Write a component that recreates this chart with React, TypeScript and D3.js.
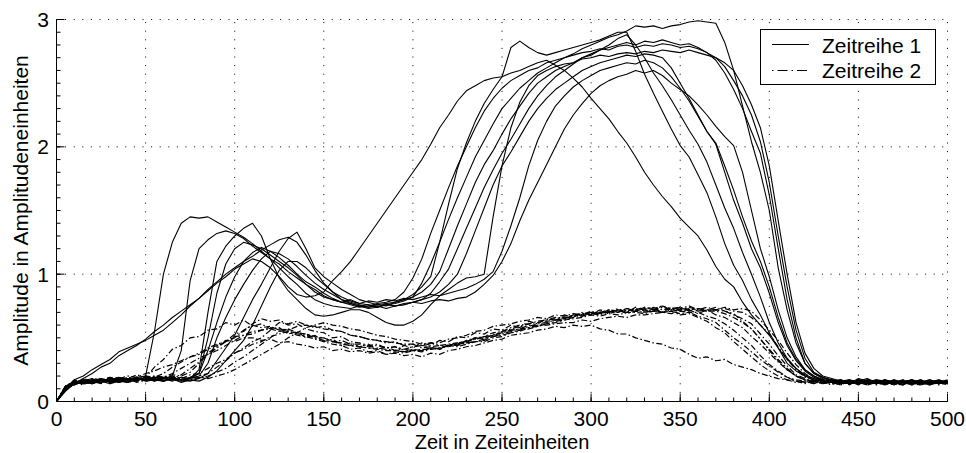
import React from 'react';
import * as d3 from 'd3';

// sampling grid of the time axis (every 5 time units, 0..500)
const times: number[] = d3.range(0, 501, 5);

const xTicks = [0, 50, 100, 150, 200, 250, 300, 350, 400, 450, 500];
const yTicks = [0, 1, 2, 3];
const xMinor = d3.range(0, 501, 10);
const yMinor = d3.range(0, 3.001, 0.1);

// Zeitreihe 1 (solid), one per 5 time units
const s1 = [0,0.09,0.15,0.16,0.14,0.17,0.16,0.18,0.17,0.19,0.2,0.55,1.0,1.25,1.4,1.45,1.44,1.45,1.41,1.37,1.33,1.29,1.24,1.18,1.12,1.05,0.98,0.92,0.85,0.8,0.77,0.75,0.74,0.73,0.75,0.74,0.76,0.75,0.78,0.8,0.82,0.86,0.92,1.02,1.2,1.38,1.55,1.72,1.86,1.97,2.1,2.22,2.32,2.42,2.5,2.55,2.6,2.63,2.66,2.7,2.72,2.76,2.78,2.8,2.82,2.8,2.83,2.82,2.84,2.82,2.8,2.81,2.78,2.74,2.68,2.58,2.45,2.3,2.12,1.95,1.62,1.2,0.8,0.5,0.3,0.22,0.18,0.17,0.15,0.16,0.14,0.16,0.15,0.17,0.15,0.14,0.16,0.15,0.13,0.15,0.14];
const s2 = [0,0.11,0.14,0.17,0.15,0.16,0.18,0.15,0.17,0.18,0.17,0.19,0.18,0.2,0.4,0.95,1.2,1.27,1.32,1.34,1.32,1.28,1.22,1.17,1.12,1.08,1.02,0.97,0.92,0.88,0.83,0.8,0.78,0.76,0.74,0.75,0.77,0.78,0.8,0.86,0.97,1.12,1.32,1.5,1.68,1.85,2.0,2.15,2.28,2.38,2.46,2.52,2.56,2.6,2.62,2.66,2.68,2.7,2.72,2.74,2.75,2.77,2.76,2.79,2.8,2.78,2.8,2.79,2.81,2.8,2.78,2.79,2.77,2.74,2.7,2.63,2.52,2.4,2.25,2.04,1.72,1.3,0.9,0.56,0.34,0.23,0.19,0.16,0.17,0.15,0.16,0.14,0.16,0.15,0.17,0.15,0.14,0.16,0.15,0.17,0.15];
const s3 = [0,0.1,0.16,0.14,0.17,0.15,0.17,0.19,0.16,0.18,0.17,0.19,0.18,0.17,0.16,0.18,0.25,0.7,1.1,1.22,1.3,1.36,1.4,1.3,1.12,0.97,0.87,0.8,0.73,0.68,0.67,0.68,0.7,0.72,0.72,0.7,0.66,0.62,0.6,0.6,0.63,0.68,0.76,0.83,0.88,0.93,0.97,0.98,1.0,1.45,1.85,2.15,2.35,2.48,2.56,2.6,2.63,2.65,2.66,2.69,2.7,2.72,2.71,2.73,2.74,2.73,2.75,2.74,2.76,2.75,2.74,2.76,2.74,2.72,2.7,2.66,2.6,2.48,2.33,2.15,1.85,1.42,1.0,0.62,0.38,0.26,0.2,0.18,0.16,0.17,0.15,0.14,0.17,0.16,0.14,0.15,0.17,0.14,0.16,0.15,0.16];
const s4 = [0,0.1,0.17,0.2,0.25,0.29,0.33,0.39,0.42,0.45,0.48,0.52,0.56,0.62,0.68,0.75,0.81,0.87,0.93,0.98,1.04,1.08,1.12,1.1,1.05,0.98,0.9,0.84,0.82,0.83,0.86,0.95,1.02,1.1,1.2,1.3,1.4,1.5,1.6,1.7,1.8,1.9,2.02,2.15,2.25,2.36,2.44,2.48,2.52,2.54,2.55,2.58,2.6,2.63,2.66,2.68,2.64,2.6,2.54,2.47,2.38,2.3,2.22,2.12,2.03,1.92,1.8,1.7,1.61,1.53,1.44,1.37,1.3,1.19,1.06,0.96,0.9,0.78,0.68,0.6,0.52,0.42,0.33,0.26,0.2,0.18,0.17,0.15,0.16,0.14,0.17,0.15,0.14,0.16,0.13,0.16,0.15,0.17,0.14,0.15,0.16];
const s5 = [0,0.08,0.14,0.18,0.22,0.27,0.3,0.36,0.4,0.44,0.49,0.55,0.6,0.66,0.71,0.76,0.81,0.88,0.94,1.0,1.05,1.1,1.14,1.19,1.23,1.27,1.29,1.25,1.15,1.03,0.93,0.86,0.8,0.77,0.75,0.76,0.74,0.77,0.78,0.8,0.84,0.9,0.98,1.25,1.55,1.83,2.03,2.2,2.34,2.45,2.55,2.78,2.83,2.78,2.74,2.72,2.74,2.76,2.78,2.8,2.82,2.84,2.87,2.9,2.9,2.75,2.57,2.42,2.28,2.14,2.01,1.92,1.78,1.64,1.45,1.24,1.07,0.95,0.8,0.68,0.54,0.42,0.3,0.24,0.2,0.17,0.16,0.15,0.17,0.14,0.16,0.15,0.17,0.14,0.16,0.15,0.13,0.16,0.14,0.16,0.15];
const s6 = [0,0.12,0.15,0.14,0.16,0.18,0.15,0.17,0.16,0.19,0.17,0.18,0.16,0.18,0.17,0.16,0.18,0.22,0.32,0.42,0.52,0.66,0.8,0.92,1.05,1.18,1.28,1.33,1.2,1.05,0.98,0.93,0.88,0.84,0.8,0.78,0.76,0.77,0.75,0.76,0.78,0.77,0.79,0.8,0.79,0.81,0.82,0.86,0.92,0.99,1.1,1.24,1.42,1.58,1.72,1.86,2.0,2.14,2.25,2.34,2.42,2.48,2.52,2.55,2.57,2.6,2.58,2.6,2.56,2.5,2.45,2.4,2.33,2.25,2.16,2.08,2.01,1.8,1.5,1.2,0.98,0.72,0.5,0.35,0.25,0.2,0.17,0.15,0.16,0.14,0.18,0.16,0.15,0.17,0.14,0.16,0.15,0.14,0.17,0.15,0.16];
const s7 = [0,0.11,0.13,0.16,0.18,0.15,0.17,0.16,0.18,0.17,0.19,0.18,0.16,0.19,0.17,0.18,0.22,0.5,0.85,1.08,1.2,1.25,1.23,1.2,1.15,1.1,1.05,0.99,0.92,0.86,0.82,0.8,0.78,0.77,0.75,0.73,0.74,0.76,0.77,0.79,0.82,0.93,1.08,1.25,1.43,1.6,1.76,1.92,2.05,2.18,2.3,2.38,2.46,2.52,2.58,2.62,2.66,2.7,2.73,2.77,2.8,2.83,2.86,2.88,2.91,2.95,2.94,2.95,2.93,2.95,2.96,2.98,2.99,2.98,2.97,2.82,2.6,2.32,2.04,1.8,1.5,1.05,0.72,0.46,0.3,0.22,0.19,0.17,0.15,0.16,0.14,0.17,0.15,0.16,0.14,0.15,0.17,0.15,0.14,0.16,0.15];
const s8 = [0,0.1,0.15,0.17,0.14,0.16,0.18,0.17,0.15,0.17,0.18,0.16,0.18,0.17,0.19,0.18,0.2,0.3,0.5,0.66,0.8,0.92,1.03,1.12,1.18,1.16,1.12,1.06,0.99,0.93,0.88,0.84,0.8,0.78,0.76,0.74,0.75,0.73,0.75,0.76,0.78,0.8,0.85,0.94,1.04,1.2,1.36,1.52,1.68,1.82,1.95,2.06,2.18,2.3,2.4,2.48,2.55,2.6,2.65,2.7,2.73,2.76,2.8,2.85,2.88,2.8,2.7,2.58,2.48,2.37,2.25,2.13,2.02,1.88,1.7,1.52,1.36,1.17,1.0,0.82,0.62,0.46,0.34,0.26,0.21,0.18,0.16,0.17,0.15,0.14,0.16,0.18,0.15,0.14,0.16,0.15,0.17,0.14,0.16,0.15,0.17];
const s9 = [0,0.09,0.14,0.15,0.17,0.16,0.14,0.17,0.18,0.16,0.19,0.17,0.16,0.18,0.15,0.17,0.16,0.19,0.24,0.32,0.4,0.48,0.6,0.75,0.9,1.03,1.1,1.1,1.05,0.98,0.92,0.86,0.82,0.79,0.77,0.76,0.74,0.76,0.75,0.77,0.78,0.8,0.82,0.86,0.92,1.0,1.16,1.34,1.52,1.7,1.85,1.96,2.08,2.2,2.3,2.38,2.45,2.5,2.55,2.6,2.63,2.66,2.68,2.7,2.72,2.71,2.73,2.72,2.7,2.62,2.5,2.38,2.25,2.12,2.02,1.8,1.58,1.4,1.2,1.05,0.85,0.62,0.44,0.32,0.24,0.19,0.17,0.15,0.16,0.14,0.15,0.17,0.14,0.16,0.15,0.13,0.16,0.15,0.17,0.14,0.16];
const s10 = [0,0.12,0.16,0.15,0.14,0.17,0.16,0.15,0.17,0.19,0.16,0.17,0.19,0.18,0.17,0.19,0.22,0.4,0.62,0.82,0.98,1.1,1.17,1.21,1.18,1.13,1.07,1.0,0.94,0.9,0.85,0.81,0.78,0.8,0.77,0.79,0.78,0.8,0.79,0.81,0.8,0.82,0.84,0.83,0.85,0.87,0.89,0.92,0.96,1.02,1.18,1.38,1.6,1.85,2.05,2.2,2.32,2.4,2.47,2.52,2.56,2.6,2.62,2.64,2.66,2.65,2.68,2.66,2.62,2.55,2.46,2.36,2.24,2.12,2.03,1.85,1.66,1.45,1.26,1.1,0.9,0.66,0.46,0.33,0.25,0.2,0.17,0.16,0.14,0.15,0.17,0.15,0.16,0.14,0.15,0.17,0.14,0.16,0.15,0.14,0.16];

// Zeitreihe 2 (dash-dot)
const d1 = [0,0.11,0.15,0.13,0.17,0.15,0.19,0.16,0.18,0.21,0.19,0.27,0.33,0.41,0.44,0.5,0.51,0.56,0.57,0.62,0.6,0.64,0.59,0.61,0.57,0.58,0.53,0.55,0.5,0.52,0.47,0.49,0.44,0.46,0.43,0.45,0.41,0.43,0.4,0.44,0.42,0.46,0.44,0.48,0.47,0.51,0.5,0.54,0.53,0.57,0.56,0.6,0.58,0.63,0.61,0.65,0.64,0.68,0.66,0.7,0.68,0.72,0.7,0.73,0.7,0.74,0.71,0.73,0.7,0.74,0.71,0.72,0.69,0.72,0.68,0.66,0.62,0.58,0.51,0.45,0.38,0.31,0.25,0.2,0.17,0.15,0.17,0.14,0.16,0.13,0.17,0.15,0.14,0.16,0.13,0.17,0.15,0.14,0.16,0.13,0.15];
const d2 = [0,0.09,0.14,0.16,0.15,0.18,0.16,0.15,0.19,0.17,0.18,0.16,0.2,0.18,0.21,0.26,0.31,0.38,0.43,0.47,0.53,0.55,0.61,0.65,0.63,0.64,0.6,0.61,0.57,0.55,0.54,0.5,0.51,0.47,0.46,0.44,0.45,0.42,0.43,0.39,0.41,0.4,0.42,0.41,0.45,0.44,0.48,0.5,0.49,0.53,0.54,0.56,0.57,0.6,0.59,0.63,0.64,0.65,0.68,0.67,0.7,0.69,0.72,0.7,0.73,0.71,0.74,0.72,0.75,0.72,0.74,0.71,0.73,0.72,0.74,0.71,0.69,0.63,0.57,0.49,0.4,0.32,0.25,0.2,0.17,0.16,0.14,0.17,0.15,0.16,0.13,0.16,0.15,0.13,0.16,0.15,0.17,0.14,0.15,0.17,0.14];
const d3s = [0,0.1,0.16,0.14,0.16,0.15,0.17,0.18,0.16,0.17,0.19,0.17,0.18,0.2,0.18,0.21,0.22,0.26,0.3,0.33,0.38,0.41,0.45,0.47,0.51,0.53,0.55,0.52,0.51,0.49,0.47,0.45,0.44,0.41,0.42,0.39,0.4,0.37,0.38,0.36,0.37,0.35,0.38,0.37,0.4,0.41,0.43,0.44,0.46,0.48,0.49,0.52,0.53,0.54,0.56,0.57,0.59,0.58,0.6,0.59,0.6,0.57,0.56,0.53,0.53,0.5,0.48,0.46,0.45,0.42,0.41,0.37,0.34,0.35,0.32,0.33,0.29,0.27,0.25,0.22,0.2,0.18,0.17,0.15,0.16,0.14,0.16,0.15,0.13,0.16,0.15,0.17,0.14,0.15,0.13,0.16,0.14,0.16,0.15,0.14,0.16];
const d4 = [0,0.12,0.15,0.17,0.16,0.14,0.17,0.19,0.17,0.18,0.2,0.19,0.22,0.27,0.31,0.35,0.38,0.42,0.45,0.47,0.51,0.52,0.55,0.56,0.58,0.57,0.56,0.54,0.53,0.5,0.5,0.47,0.48,0.45,0.45,0.43,0.44,0.42,0.43,0.41,0.43,0.44,0.46,0.46,0.49,0.5,0.52,0.55,0.56,0.59,0.6,0.61,0.63,0.64,0.66,0.65,0.68,0.67,0.69,0.68,0.71,0.69,0.7,0.72,0.69,0.71,0.7,0.72,0.7,0.71,0.68,0.69,0.66,0.63,0.58,0.54,0.47,0.41,0.35,0.29,0.24,0.2,0.17,0.16,0.14,0.16,0.15,0.13,0.16,0.14,0.16,0.13,0.15,0.17,0.14,0.16,0.13,0.15,0.14,0.16,0.15];
const d5 = [0,0.1,0.13,0.16,0.15,0.17,0.14,0.16,0.18,0.15,0.17,0.19,0.16,0.18,0.17,0.19,0.18,0.2,0.23,0.26,0.31,0.35,0.4,0.45,0.5,0.55,0.56,0.59,0.6,0.58,0.59,0.56,0.55,0.52,0.51,0.49,0.48,0.46,0.47,0.44,0.45,0.42,0.43,0.41,0.44,0.43,0.45,0.47,0.47,0.5,0.51,0.54,0.55,0.58,0.59,0.61,0.63,0.64,0.66,0.67,0.69,0.68,0.71,0.7,0.72,0.71,0.73,0.71,0.74,0.72,0.73,0.75,0.72,0.74,0.72,0.73,0.71,0.7,0.66,0.6,0.53,0.43,0.33,0.25,0.19,0.17,0.15,0.16,0.14,0.17,0.15,0.14,0.16,0.15,0.17,0.14,0.16,0.15,0.13,0.16,0.14];
const d6 = [0,0.11,0.17,0.15,0.18,0.17,0.19,0.18,0.2,0.19,0.22,0.24,0.27,0.29,0.32,0.35,0.37,0.41,0.44,0.48,0.47,0.5,0.5,0.48,0.49,0.46,0.47,0.45,0.44,0.42,0.43,0.4,0.41,0.39,0.4,0.38,0.39,0.37,0.39,0.38,0.4,0.39,0.41,0.42,0.44,0.45,0.47,0.49,0.51,0.54,0.55,0.58,0.6,0.61,0.63,0.64,0.66,0.65,0.68,0.69,0.7,0.7,0.72,0.71,0.73,0.72,0.74,0.73,0.75,0.73,0.74,0.72,0.73,0.71,0.71,0.69,0.66,0.62,0.57,0.49,0.41,0.33,0.26,0.2,0.17,0.15,0.16,0.14,0.17,0.15,0.14,0.16,0.13,0.15,0.16,0.14,0.15,0.17,0.14,0.15,0.13];
const d7 = [0,0.09,0.15,0.14,0.16,0.15,0.18,0.16,0.15,0.17,0.16,0.18,0.17,0.19,0.18,0.17,0.19,0.18,0.2,0.22,0.25,0.29,0.33,0.37,0.41,0.45,0.5,0.54,0.58,0.6,0.62,0.6,0.59,0.57,0.56,0.54,0.52,0.51,0.49,0.48,0.47,0.45,0.46,0.44,0.45,0.46,0.47,0.49,0.5,0.52,0.55,0.57,0.59,0.61,0.62,0.64,0.65,0.66,0.67,0.69,0.68,0.7,0.69,0.71,0.7,0.72,0.7,0.71,0.7,0.72,0.71,0.73,0.71,0.72,0.72,0.74,0.72,0.73,0.71,0.64,0.56,0.48,0.38,0.29,0.22,0.17,0.15,0.16,0.14,0.15,0.17,0.15,0.14,0.16,0.14,0.13,0.16,0.15,0.17,0.14,0.15];
const d8 = [0,0.1,0.14,0.18,0.16,0.15,0.17,0.16,0.19,0.17,0.18,0.2,0.19,0.21,0.2,0.23,0.3,0.37,0.42,0.47,0.5,0.56,0.6,0.58,0.59,0.56,0.57,0.54,0.53,0.51,0.5,0.47,0.46,0.44,0.43,0.42,0.41,0.4,0.4,0.39,0.4,0.41,0.41,0.42,0.44,0.46,0.47,0.5,0.51,0.52,0.54,0.56,0.57,0.58,0.6,0.6,0.61,0.62,0.62,0.64,0.63,0.65,0.66,0.67,0.66,0.68,0.68,0.69,0.7,0.69,0.71,0.7,0.67,0.65,0.62,0.56,0.5,0.45,0.39,0.33,0.28,0.23,0.19,0.17,0.16,0.14,0.16,0.15,0.13,0.16,0.14,0.15,0.17,0.14,0.15,0.16,0.14,0.13,0.16,0.15,0.14];
const d9 = [0,0.12,0.16,0.14,0.15,0.18,0.16,0.17,0.15,0.18,0.17,0.19,0.18,0.16,0.19,0.18,0.2,0.22,0.27,0.32,0.38,0.42,0.47,0.5,0.56,0.62,0.61,0.63,0.6,0.59,0.57,0.56,0.55,0.52,0.51,0.49,0.48,0.47,0.46,0.45,0.45,0.44,0.43,0.44,0.43,0.45,0.46,0.47,0.48,0.51,0.53,0.55,0.56,0.59,0.61,0.62,0.64,0.65,0.67,0.68,0.69,0.7,0.7,0.72,0.71,0.73,0.72,0.74,0.72,0.73,0.72,0.74,0.72,0.71,0.72,0.71,0.68,0.65,0.61,0.53,0.45,0.36,0.28,0.21,0.18,0.16,0.14,0.16,0.15,0.17,0.14,0.16,0.15,0.13,0.16,0.15,0.14,0.16,0.14,0.16,0.15];
const d10 = [0,0.11,0.15,0.16,0.14,0.17,0.15,0.18,0.17,0.16,0.18,0.2,0.19,0.22,0.26,0.3,0.34,0.37,0.4,0.44,0.48,0.52,0.53,0.56,0.57,0.55,0.54,0.53,0.52,0.5,0.48,0.47,0.45,0.44,0.43,0.42,0.42,0.41,0.4,0.41,0.4,0.4,0.42,0.42,0.44,0.44,0.46,0.47,0.49,0.51,0.52,0.54,0.56,0.57,0.59,0.61,0.62,0.64,0.65,0.66,0.68,0.67,0.69,0.68,0.7,0.7,0.69,0.71,0.7,0.71,0.69,0.7,0.7,0.67,0.65,0.61,0.56,0.5,0.44,0.36,0.29,0.24,0.19,0.16,0.15,0.16,0.14,0.15,0.16,0.14,0.15,0.13,0.16,0.15,0.14,0.16,0.15,0.13,0.15,0.16,0.14];

const series1 = [s1, s2, s3, s4, s5, s6, s7, s8, s9, s10];
const series2 = [d1, d2, d3s, d4, d5, d6, d7, d8, d9, d10];

const W = 966;
const H = 453;
const FONT = "'Liberation Sans', Arial, Helvetica, sans-serif";

export default function App() {
  const x = d3.scaleLinear().domain([0, 500]).range([56.5, 947.5]);
  const y = d3.scaleLinear().domain([0, 3]).range([401.5, 19.5]);
  const line = d3
    .line<[number, number]>()
    .x((d) => x(d[0]))
    .y((d) => y(d[1]));
  const toPts = (vals: number[]): [number, number][] =>
    vals.slice(0, times.length).map((v, i) => [times[i], v]);

  const [x0, x1] = x.range();
  const [y0, y1] = y.range();

  return (
    <svg
      width={W}
      height={H}
      viewBox={`0 0 ${W} ${H}`}
      style={{ position: 'absolute', left: 0, top: 0, background: '#fff' }}
      fontFamily={FONT}
    >
      <rect x={0} y={0} width={W} height={H} fill="#fff" />
      {/* grid */}
      <g stroke="#000" strokeWidth={1} strokeDasharray="1 7.6" fill="none">
        {xTicks.filter((t) => t > 0).map((t) => (
          <line key={'gx' + t} x1={x(t)} x2={x(t)} y1={y0} y2={y1} />
        ))}
        {yTicks.filter((t) => t > 0).map((t) => (
          <line key={'gy' + t} x1={x0} x2={x1} y1={y(t)} y2={y(t)} />
        ))}
      </g>
      {/* data: Zeitreihe 2 */}
      <g fill="none" stroke="#000" strokeWidth={1.2} strokeDasharray="6 2.5 1.5 2.5">
        {series2.map((s, i) => (
          <path key={'d' + i} d={line(toPts(s)) || ''} />
        ))}
      </g>
      {/* data: Zeitreihe 1 */}
      <g fill="none" stroke="#000" strokeWidth={1.1} strokeLinejoin="round">
        {series1.map((s, i) => (
          <path key={'s' + i} d={line(toPts(s)) || ''} />
        ))}
      </g>
      {/* axes */}
      <g stroke="#000" strokeWidth={1}>
        <line x1={x0} x2={x1} y1={y0} y2={y0} />
        <line x1={x0} x2={x0} y1={y0} y2={y1} />
        {xTicks.map((t) => (
          <line key={'tx' + t} x1={x(t)} x2={x(t)} y1={y0} y2={y0 - 8} />
        ))}
        {xMinor.map((t) => (
          <line key={'mx' + t} x1={x(t)} x2={x(t)} y1={y0} y2={y0 - 4} />
        ))}
        {yTicks.map((t) => (
          <line key={'ty' + t} x1={x0} x2={x0 + 8} y1={y(t)} y2={y(t)} />
        ))}
        {yMinor.map((t, i) => (
          <line key={'my' + i} x1={x0} x2={x0 + 4} y1={y(t)} y2={y(t)} />
        ))}
      </g>
      {/* tick labels */}
      <g fontSize={21} fill="#000">
        {xTicks.map((t) => (
          <text key={'lx' + t} x={x(t)} y={426} textAnchor="middle">
            {t}
          </text>
        ))}
        {yTicks.map((t) => (
          <text key={'ly' + t} x={49} y={y(t) + 7.5} textAnchor="end">
            {t}
          </text>
        ))}
      </g>
      {/* axis titles */}
      <text x={(x0 + x1) / 2} y={448.7} fontSize={20} textAnchor="middle" fill="#000">
        Zeit in Zeiteinheiten
      </text>
      <text
        transform={`translate(28, ${(y0 + y1) / 2}) rotate(-90)`}
        fontSize={21}
        textAnchor="middle"
        fill="#000"
      >
        Amplitude in Amplitudeneinheiten
      </text>
      {/* legend */}
      <g>
        <rect x={760.5} y={29.5} width={175} height={55} fill="#fff" stroke="#000" strokeWidth={1} />
        <line x1={772} x2={809} y1={44.5} y2={44.5} stroke="#000" strokeWidth={1} />
        <line x1={772} x2={809} y1={70.5} y2={70.5} stroke="#000" strokeWidth={1} strokeDasharray="1.5 4 10 4" />
        <text x={822} y={52.5} fontSize={21} fill="#000">Zeitreihe 1</text>
        <text x={822} y={78} fontSize={21} fill="#000">Zeitreihe 2</text>
      </g>
    </svg>
  );
}
